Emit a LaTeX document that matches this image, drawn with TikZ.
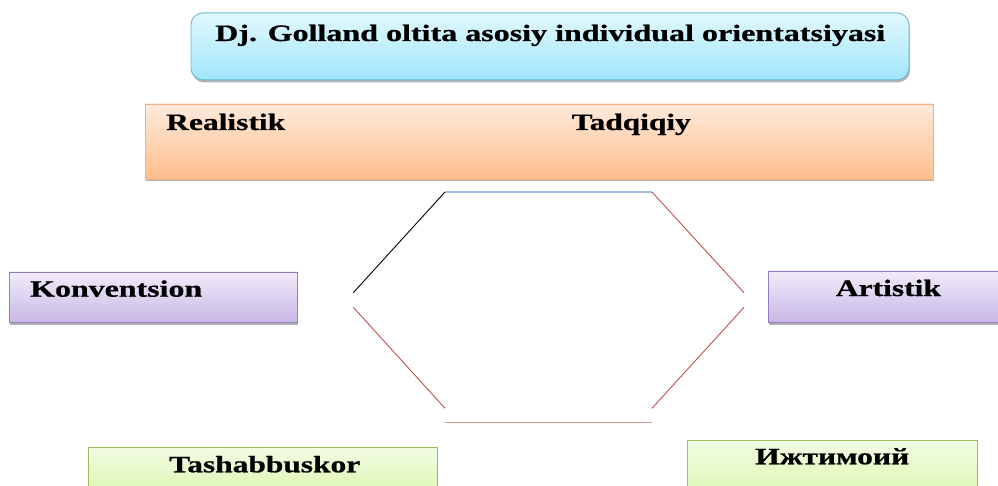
\documentclass[tikz,border=0pt]{standalone}
\usepackage{fontspec}
\setmainfont{Liberation Serif}
\usepackage{graphicx}
\usetikzlibrary{shadows}
\definecolor{cyanT}{RGB}{226,248,254}
\definecolor{cyanB}{RGB}{160,230,250}
\definecolor{cyanD}{RGB}{110,185,215}
\definecolor{orT}{RGB}{255,234,220}
\definecolor{orB}{RGB}{255,190,140}
\definecolor{orD}{RGB}{245,175,125}
\definecolor{puT}{RGB}{241,236,250}
\definecolor{puB}{RGB}{200,184,230}
\definecolor{puD}{RGB}{150,125,195}
\definecolor{grT}{RGB}{242,252,228}
\definecolor{grB}{RGB}{218,246,172}
\definecolor{grD}{RGB}{155,190,90}
\definecolor{hexRed}{RGB}{192,80,77}
\definecolor{hexBlue}{RGB}{160,188,226}
\definecolor{hexPink}{RGB}{218,150,148}
\newcommand{\stx}[2]{\resizebox{#1}{\height}{\fontsize{23.5}{25}\selectfont\bfseries\addfontfeatures{FakeBold=0.6}#2}}
\tikzset{
  boxbase/.style={draw, line width=0.9pt, inner sep=0pt,
    drop shadow={shadow xshift=1pt, shadow yshift=-2.5pt, opacity=0.5, fill=black!60}},
  cyanbox/.style={boxbase, draw=cyanD, top color=cyanT, bottom color=cyanB, rounded corners=12pt},
  orbox/.style={boxbase, draw=orD, top color=orT, bottom color=orB},
  pubox/.style={boxbase, draw=puD, top color=puT, bottom color=puB},
  grbox/.style={boxbase, draw=grD, top color=grT, bottom color=grB},
  lbl/.style={anchor=base west, inner sep=0pt, text=black},
  hexline/.style={line width=0.9pt}
}
\begin{document}
\begin{tikzpicture}[x=1pt,y=-1pt]
\useasboundingbox[fill=white] (0,0) rectangle (998,486);
% boxes
\node[cyanbox, minimum width=718pt, minimum height=67pt] (top) at (550,46.4) {};
\node[orbox, minimum width=788pt, minimum height=75pt] (orange) at (539,141.5) {};
\node[pubox, minimum width=288pt, minimum height=50pt] (konvbox) at (153,297) {};
\node[pubox, minimum width=242pt, minimum height=51pt] (artbox) at (889,296.5) {};
\node[grbox, minimum width=349pt, minimum height=53pt] (tashbox) at (262.5,473.5) {};
\node[grbox, minimum width=290pt, minimum height=60pt] (ijtbox) at (832,470) {};
% labels
\node[lbl] (title) at (215,41) {\stx{670pt}{Dj. Golland oltita asosiy individual orientatsiyasi}};
\node[lbl] (real) at (166,130) {\stx{119pt}{Realistik}};
\node[lbl] (tadq) at (571.5,130) {\stx{119pt}{Tadqiqiy}};
\node[lbl] (konv) at (30,296.7) {\stx{172pt}{Konventsion}};
\node[lbl] (art) at (835.7,296) {\stx{105pt}{Artistik}};
\node[lbl] (tash) at (169,472.3) {\stx{191pt}{Tashabbuskor}};
\node[lbl] (ijt) at (755,464.3) {\stx{154pt}{Ижтимоий}};
% hexagon
\coordinate (tl) at (445,192);
\coordinate (tr) at (652,192);
\coordinate (ml1) at (353.3,292.7);
\coordinate (mr1) at (744,292.7);
\coordinate (ml2) at (353.3,307.3);
\coordinate (mr2) at (744,307.3);
\coordinate (bl1) at (445,408.3);
\coordinate (br1) at (652,408.3);
\coordinate (bl2) at (445,422.7);
\coordinate (br2) at (652,422.7);
\draw[hexline, hexBlue, line width=1.3pt] (tl) -- (tr);
\draw[hexline, black] (tl) -- (ml1);
\draw[hexline, hexRed] (tr) -- (mr1);
\draw[hexline, hexRed] (ml2) -- (bl1);
\draw[hexline, hexRed] (mr2) -- (br1);
\draw[hexline, hexPink, line width=1.3pt] (bl2) -- (br2);
\end{tikzpicture}
\end{document}
